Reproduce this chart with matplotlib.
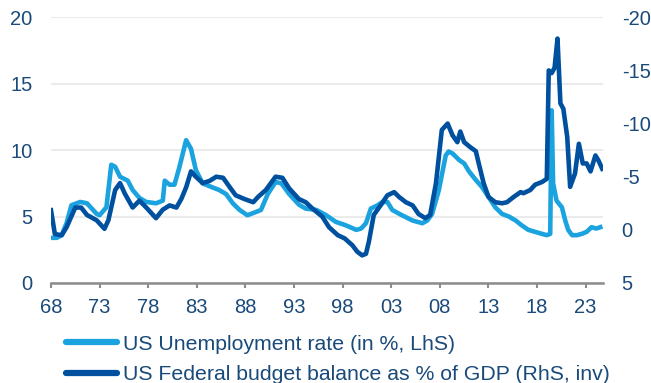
import numpy as np
import matplotlib
matplotlib.use("Agg")
import matplotlib.pyplot as plt

plt.rcParams['font.family'] = ['Liberation Sans', 'DejaVu Sans']
plt.rcParams['axes.unicode_minus'] = False

# US unemployment rate, % (left axis)
unemp_t = [1968.0, 1968.6, 1969.1, 1969.6, 1970.1, 1971.0, 1971.7, 1972.7, 1973.0, 1973.7,
           1974.2, 1974.6, 1975.1, 1975.9, 1976.4, 1977.1, 1977.8, 1978.8, 1979.5, 1979.7,
           1980.2, 1980.7, 1981.2, 1981.9, 1982.4, 1982.9, 1983.6, 1984.6, 1985.3, 1986.0,
           1986.7, 1987.4, 1988.2, 1989.1, 1989.6, 1990.3, 1991.1, 1991.7, 1992.5, 1993.5,
           1994.2, 1995.3, 1996.3, 1997.3, 1998.3, 1999.4, 1999.9, 2000.4, 2000.9, 2001.6,
           2002.1, 2002.6, 2003.1, 2004.1, 2005.2, 2006.2, 2006.7, 2007.2, 2007.9, 2008.6,
           2008.9, 2009.3, 2010.0, 2010.5, 2011.0, 2011.7, 2012.3, 2013.0, 2013.7, 2014.4,
           2015.1, 2015.8, 2016.4, 2017.1, 2017.8, 2018.5, 2019.0, 2019.35, 2019.5, 2019.65,
           2020.0, 2020.55, 2020.9, 2021.2, 2021.6, 2022.1, 2022.6, 2023.1, 2023.6, 2024.1,
           2024.5]
unemp = [3.4, 3.4, 3.6, 4.5, 5.85, 6.1, 6.0, 5.2, 5.1, 5.7,
         8.9, 8.75, 8.0, 7.7, 7.0, 6.4, 6.1, 6.0, 6.2, 7.7,
         7.4, 7.4, 8.7, 10.75, 10.1, 8.5, 7.5, 7.2, 7.0, 6.7,
         6.0, 5.5, 5.1, 5.35, 5.5, 6.7, 7.6, 7.5, 6.7, 5.9,
         5.6, 5.5, 5.1, 4.6, 4.35, 4.0, 4.1, 4.5, 5.6, 5.85,
         6.1, 6.1, 5.5, 5.1, 4.7, 4.5, 4.7, 5.2, 7.0, 9.6,
         9.9, 9.75, 9.25, 9.0, 8.4, 7.75, 7.25, 6.5, 5.7, 5.2,
         5.0, 4.7, 4.35, 4.0, 3.85, 3.7, 3.6, 3.7, 13.0, 7.5,
         6.2, 5.7, 4.7, 4.0, 3.6, 3.6, 3.7, 3.85, 4.2, 4.1,
         4.2]

# US federal budget balance, % of GDP (right axis, inverted)
budget_t = [1968.0, 1968.4, 1969.1, 1969.6, 1970.5, 1971.1, 1971.7, 1972.7, 1973.5, 1973.9,
            1974.6, 1975.1, 1975.6, 1976.4, 1977.1, 1977.8, 1978.8, 1979.5, 1980.2, 1980.9,
            1981.4, 1981.9, 1982.4, 1982.9, 1983.6, 1984.3, 1985.0, 1985.7, 1986.4, 1987.0,
            1987.9, 1988.8, 1989.3, 1990.1, 1991.1, 1991.8, 1992.5, 1993.5, 1994.2, 1994.9,
            1995.9, 1996.6, 1997.5, 1998.2, 1999.0, 1999.5, 2000.0, 2000.4, 2000.7, 2001.2,
            2001.9, 2002.6, 2003.3, 2003.8, 2004.5, 2005.2, 2005.8, 2006.5, 2007.0, 2007.6,
            2008.2, 2008.8, 2009.3, 2009.8, 2010.1, 2010.5, 2011.1, 2011.7, 2012.0, 2012.5,
            2013.0, 2013.7, 2014.4, 2014.9, 2015.6, 2016.3, 2016.6, 2017.3, 2017.8, 2018.5,
            2019.0, 2019.2, 2019.5, 2019.8, 2020.1, 2020.4, 2020.7, 2021.1, 2021.4, 2021.9,
            2022.3, 2022.7, 2023.1, 2023.5, 2024.0, 2024.3, 2024.7]
budget = [-1.85, 0.4, 0.5, -0.25, -2.1, -2.1, -1.4, -0.9, -0.1, -0.9,
          -3.75, -4.4, -3.4, -2.1, -2.75, -2.1, -1.1, -1.9, -2.3, -2.1,
          -2.9, -4.0, -5.5, -5.0, -4.4, -4.6, -5.0, -4.9, -4.0, -3.25,
          -2.9, -2.6, -3.1, -3.75, -5.0, -4.9, -3.9, -2.9, -2.6, -2.0,
          -1.25, -0.25, 0.5, 0.8, 1.45, 2.05, 2.4, 2.25, 1.1, -1.4,
          -2.3, -3.25, -3.55, -3.1, -2.6, -2.3, -1.5, -1.1, -1.4, -4.4,
          -9.4, -10.0, -8.9, -8.25, -9.25, -8.25, -7.8, -7.4, -6.25, -4.4,
          -3.1, -2.6, -2.5, -2.6, -3.1, -3.55, -3.45, -3.75, -4.25, -4.5,
          -4.8, -15.0, -14.75, -15.25, -18.0, -11.9, -11.4, -8.75, -4.05, -5.3,
          -8.1, -6.25, -6.25, -5.5, -7.0, -6.55, -5.75]

year_ticks = list(range(1968, 2024, 5))
year_labels = [f"{y % 100:02d}" for y in year_ticks]

light = '#1ba3e0'
dark = '#0050a0'
txt = '#1a4a7a'

fig = plt.figure(figsize=(6.51, 3.83), dpi=100)
ax = fig.add_axes([51 / 651, 1 - 283 / 383, 551.7 / 651, 265.7 / 383])
ax2 = ax.twinx()

ax.plot(unemp_t, unemp, color=light, lw=3.3, solid_joinstyle='round',
        label='US Unemployment rate (in %, LhS)')
ax2.plot(budget_t, budget, color=dark, lw=3.3, solid_joinstyle='round',
         label='US Federal budget balance as % of GDP (RhS, inv)')

ax.set_xlim(1968, 2024.75)
ax.set_ylim(0, 20)
ax2.set_ylim(5, -20)
ax.set_yticks([0, 5, 10, 15, 20])
ax2.set_yticks([-20, -15, -10, -5, 0, 5])

ax.set_xticks(year_ticks)
ax.set_xticklabels(year_labels)

ax.grid(axis='y', color='#ebebeb', lw=1.5)
ax.set_axisbelow(True)
for a in (ax, ax2):
    for s in ('top', 'left', 'right', 'bottom'):
        a.spines[s].set_visible(False)
ax.spines['bottom'].set_visible(True)
ax.spines['bottom'].set_color('#8c8c8c')
ax.spines['bottom'].set_linewidth(1.8)

ax.tick_params(axis='x', colors='#8c8c8c', length=3.6, width=1.5, labelcolor=txt,
               labelsize=14.5, pad=7.5)
ax.tick_params(axis='y', length=0, labelcolor=txt, labelsize=14.5, pad=13.4)
ax2.tick_params(axis='y', length=0, labelcolor=txt, labelsize=14.5, pad=13.7)

h1, l1 = ax.get_legend_handles_labels()
h2, l2 = ax2.get_legend_handles_labels()
leg = fig.legend(h1 + h2, l1 + l2, loc='upper left',
                 bbox_to_anchor=(66.3 / 651, 1 - 334.8 / 383), frameon=False,
                 fontsize=15.3, handlelength=2.39, handletextpad=0.3,
                 labelspacing=0.54, borderpad=0, borderaxespad=0)
for t in leg.get_texts():
    t.set_color(txt)
for h in leg.legend_handles:
    h.set_linewidth(4.5)
    h.set_solid_capstyle('round')

fig.savefig('out.png', dpi=100)
